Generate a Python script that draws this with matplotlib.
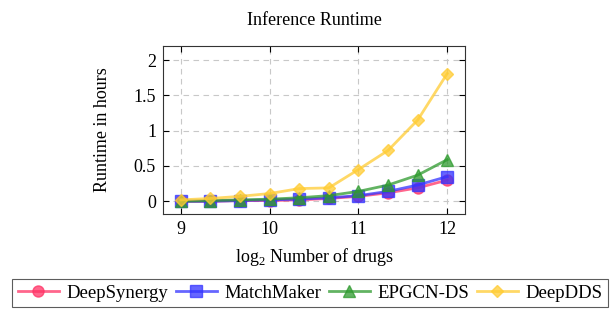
import numpy as np
import matplotlib.pyplot as plt

plt.rcParams['font.family'] = ['Liberation Serif', 'DejaVu Serif']
plt.rcParams['mathtext.fontset'] = 'custom'
plt.rcParams['mathtext.rm'] = 'Liberation Serif'

log_drugs = [9, 9 + 1/3, 9 + 2/3, 10, 10 + 1/3, 10 + 2/3, 11, 11 + 1/3, 11 + 2/3, 12]
deepsynergy = [0.0, 0.0, 0.01, 0.01, 0.02, 0.04, 0.07, 0.12, 0.19, 0.30]
matchmaker = [0.0, 0.0, 0.01, 0.02, 0.03, 0.05, 0.08, 0.14, 0.23, 0.35]
epgcn_ds = [0.0, 0.01, 0.02, 0.03, 0.05, 0.08, 0.14, 0.23, 0.37, 0.59]
deepdds = [0.02, 0.04, 0.07, 0.11, 0.18, 0.19, 0.45, 0.72, 1.15, 1.81]

series = [
    ('DeepSynergy', deepsynergy, '#ff3366', 'o'),
    ('MatchMaker', matchmaker, '#3333ff', 's'),
    ('EPGCN-DS', epgcn_ds, '#2e9a2e', '^'),
    ('DeepDDS', deepdds, '#ffcc33', 'D'),
]

fig = plt.figure(figsize=(6.13, 3.11), dpi=100)
ax = fig.add_axes([163/613, 1 - 214/311, 302/613, 168/311])

for name, vals, col, mk in series:
    ax.plot(log_drugs, vals, color=col, marker=mk, markersize=8 if mk != 'D' else 6.5,
            linewidth=2, alpha=0.75, label=name)

ax.set_xlim(8.8, 12.2)
ax.set_ylim(-0.18, 2.2)
ax.set_xticks([9, 10, 11, 12])
ax.set_yticks([0, 0.5, 1, 1.5, 2])
ax.set_yticklabels(['0', '0.5', '1', '1.5', '2'])
ax.grid(True, linestyle=(0, (5, 4)), color='#c8c8c8', linewidth=0.8)
ax.set_axisbelow(True)
ax.tick_params(direction='in', top=True, right=True, labelsize=13, length=4, pad=5)
for s in ax.spines.values():
    s.set_linewidth(0.8)
    s.set_color('#333333')

ax.set_title('Inference Runtime', fontsize=13, pad=15)
ax.set_xlabel('log$_2$ Number of drugs', fontsize=13, labelpad=6)
ax.set_ylabel('Runtime in hours', fontsize=13, labelpad=16)

leg = fig.legend(loc='upper left', bbox_to_anchor=(12/613, 1 - 279/311), ncol=4,
                 fontsize=13.5, frameon=True, fancybox=False, edgecolor='#333333',
                 handlelength=2.2, columnspacing=0.4, handletextpad=0.4,
                 borderpad=0.3, borderaxespad=0)
leg.get_frame().set_linewidth(0.8)

fig.savefig('out.png', dpi=100)
